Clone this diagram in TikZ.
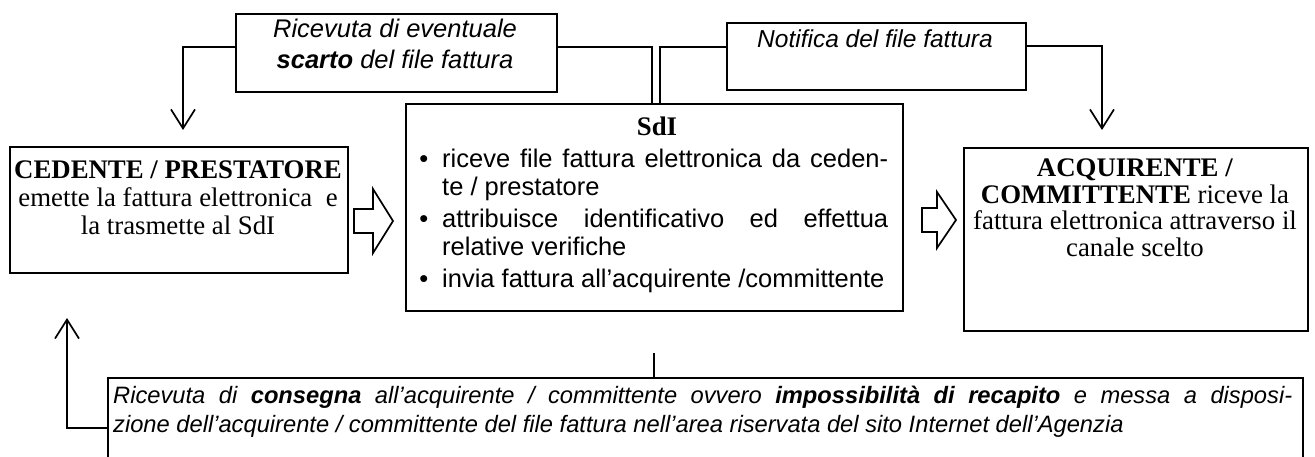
\documentclass[tikz,border=0pt]{standalone}
\usepackage{fontspec}
\setmainfont{Liberation Serif}
\newfontfamily\arialf{Liberation Sans}
\usetikzlibrary{arrows.meta}
\newcommand\bitem[1]{\par\noindent\llap{\textbullet\hspace{14pt}}#1}
\newcommand\tbx[2]{\vtop{\hsize=#1\relax\parindent=0pt #2\par}}
\tikzset{
  box/.style={draw, line width=1.7pt, inner sep=0pt, anchor=north west},
  conn/.style={line width=1.7pt},
  arr/.style={conn, -{Straight Barb[length=19pt,width=24pt,line width=1.7pt]}},
  blk/.style={line width=1.7pt, line join=miter},
  txt/.style={inner sep=0pt, anchor=base},
  tmf/.style={font=\fontsize{26.8}{28}\selectfont}
}
\begin{document}
\begin{tikzpicture}[x=1pt,y=-1pt]
\useasboundingbox (0,0) rectangle (1315,457);
\clip (0,0) rectangle (1315,457);
\fill[white] (0,0) rectangle (1315,457);
% boxes
\node[box, minimum width=321pt, minimum height=78pt] (scarto) at (235,13) {};
\node[box, minimum width=299pt, minimum height=67pt] (notif) at (726,22) {};
\node[box, minimum width=497pt, minimum height=207pt] (sdi) at (405,103) {};
\node[box, minimum width=338pt, minimum height=126pt] (ced) at (9,146) {};
\node[box, minimum width=344pt, minimum height=183pt] (acq) at (963,147) {};
\node[box, minimum width=1195pt, minimum height=110pt] (bot) at (107,377) {};
% texts
\node[txt, font=\arialf\itshape\fontsize{25.5}{31}\selectfont] (tscarto) at (395,38)
  {\tbx{321pt}{\centering Ricevuta di eventuale\\\textbf{scarto} del file fattura}};
\node[txt, font=\arialf\itshape\fontsize{24.5}{30}\selectfont] (tnotif) at (875,48) {Notifica del file fattura};
\node[txt, tmf] (tced) at (178,179)
  {\tbx{338pt}{\centering\textbf{CEDENTE / PRESTATORE}\\emette la fattura elettronica~ e\\la trasmette al SdI}};
\node[txt, font=\fontsize{26.8}{26.5}\selectfont] (tacq) at (1135,177)
  {\tbx{344pt}{\centering\textbf{ACQUIRENTE /}\\\textbf{COMMITTENTE} riceve la\\fattura elettronica attraverso il\\canale scelto}};
\node[txt, tmf] (tsdi) at (657,136) {\textbf{SdI}};
\node[inner sep=0pt, anchor=base west, font=\arialf\fontsize{25.5}{28}\selectfont] (tbul) at (442,167.5)
  {\tbx{446pt}{\parskip=4pt
   \bitem{riceve file fattura elettronica da ceden-\linebreak te / prestatore}
   \bitem{attribuisce identificativo ed effettua\linebreak relative verifiche}
   \bitem{\mbox{invia fattura all’acquirente /committente}}}};
\node[inner sep=0pt, anchor=base west, font=\arialf\itshape\fontsize{23.7}{29}\selectfont] (tbot) at (113,403)
  {\tbx{1179pt}{Ricevuta di \textbf{consegna} all’acquirente / committente ovvero \textbf{impossibilità di recapito} e messa a disposi-\linebreak zione dell’acquirente / committente del file fattura nell’area riservata del sito Internet dell’Agenzia}};
% connectors
\coordinate (a1) at (183,47);
\coordinate (a1t) at (183,130);
\draw[arr] (scarto.west |- a1) -- (a1) -- (a1t);
\coordinate (b1) at (652,47);
\draw[conn] (scarto.east |- b1) -- (b1) -- (b1 |- sdi.north);
\coordinate (b2) at (660,47);
\draw[conn] (b2 |- sdi.north) -- (b2) -- (notif.west |- b2);
\coordinate (c1) at (1102,46);
\coordinate (c1t) at (1102,130);
\draw[arr] (notif.east |- c1) -- (c1) -- (c1t);
\coordinate (d1) at (654,353);
\draw[conn] (d1) -- (d1 |- bot.north);
\coordinate (e1) at (67,428);
\coordinate (e1t) at (67,318);
\draw[arr] (bot.west |- e1) -- (e1) -- (e1t);
% block arrows
\coordinate (ba1) at (354,221);
\draw[blk] (ba1) ++(0,-12) -- ++(19,0) -- ++(0,-20) -- ++(20,32) -- ++(-20,32) -- ++(0,-20) -- ++(-19,0) -- cycle;
\coordinate (ba2) at (922,220);
\draw[blk] (ba2) ++(0,-12) -- ++(15,0) -- ++(0,-16) -- ++(19,28) -- ++(-19,28) -- ++(0,-16) -- ++(-15,0) -- cycle;
\end{tikzpicture}
\end{document}
